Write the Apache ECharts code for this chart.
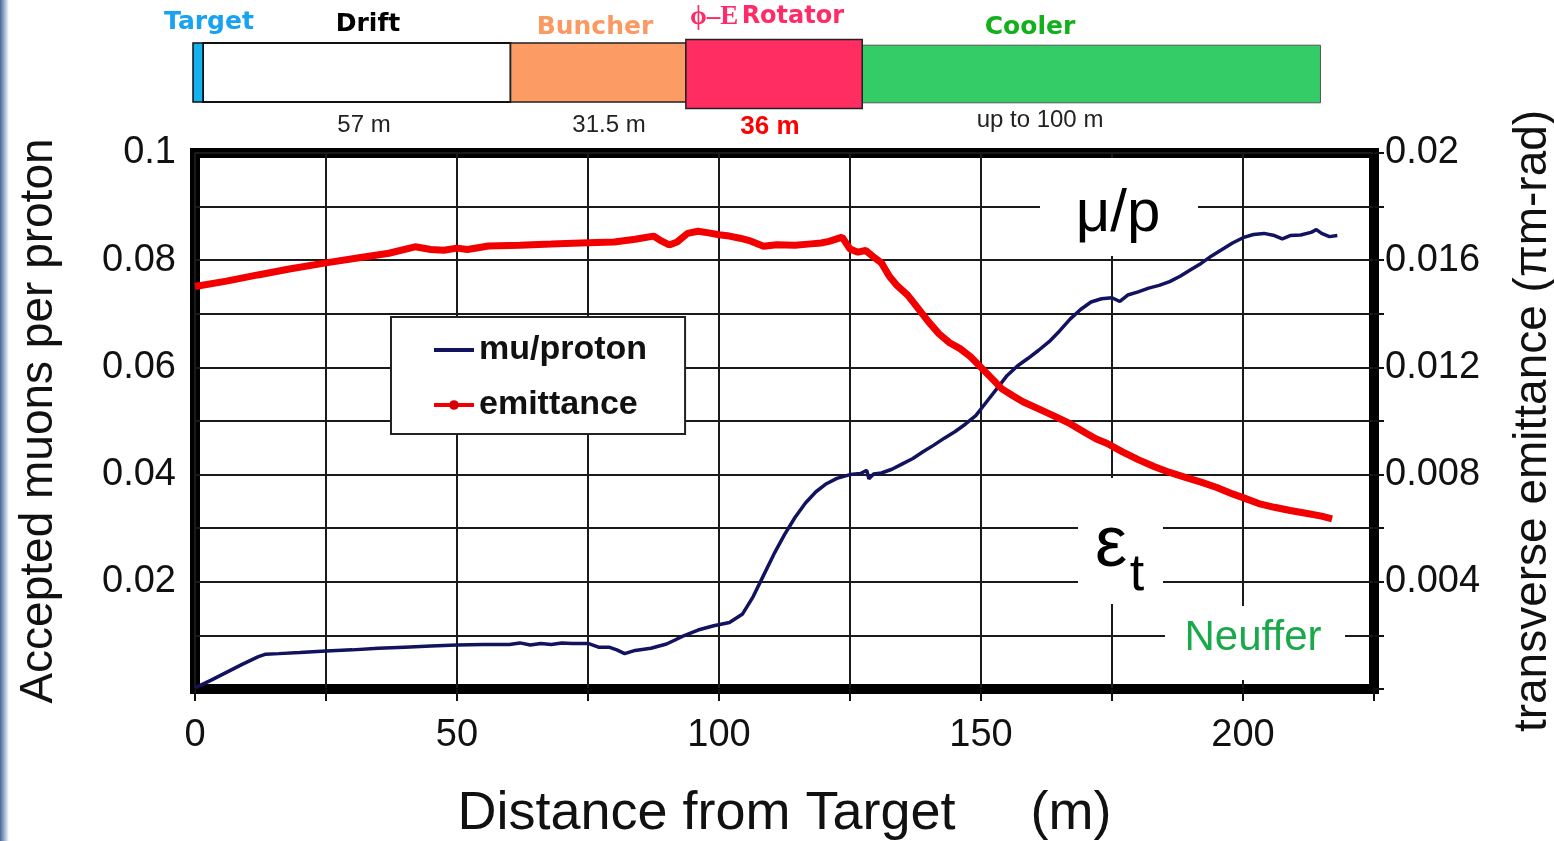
<!DOCTYPE html>
<html><head><meta charset="utf-8">
<script src="https://cdn.jsdelivr.net/npm/echarts@6/dist/echarts.min.js"></script>
<style>html,body{margin:0;padding:0;background:#fff;}#c{width:1554px;height:841px;}</style>
</head><body><div id="c"></div>
<script>
// ---------- DATA ----------
const xTickLabels = [0, 50, 100, 150, 200];
const leftTickLabels = [0.02, 0.04, 0.06, 0.08, 0.1];
const rightTickLabels = [0.004, 0.008, 0.012, 0.016, 0.02];

const muX = [0,3,6,9,12,13.5,16,20,25,30,35,40,45,50,55,60,62,64,66,68,70,72,75,77,79,80.5,82,84,87,90,93,96,99,102,104.5,106.5,108.5,110.5,112.5,114.5,116.5,118.5,120.5,122.5,125,127,128.2,128.6,129.5,131,133,135,137,139,141,143,145,147,149,151,153,155,157,159,161,163,165,167,169,171,173,175,176.5,178,180,182,184,186,188,190,192,194,196,198,200,202,204,206,207.5,209,211,213,214,215,216.5,218];
const muY = [0.0002,0.0016,0.0031,0.0046,0.0060,0.0065,0.0066,0.0068,0.0071,0.0073,0.0076,0.0078,0.0080,0.0082,0.0083,0.0083,0.0086,0.0082,0.0085,0.0083,0.0086,0.0085,0.0085,0.0078,0.0078,0.0073,0.0066,0.0072,0.0076,0.0084,0.0098,0.0110,0.0118,0.0124,0.0140,0.0172,0.0212,0.0252,0.0288,0.0320,0.0347,0.0368,0.0383,0.0393,0.0400,0.0402,0.0408,0.0392,0.0401,0.0403,0.0410,0.0420,0.0430,0.0443,0.0455,0.0468,0.0480,0.0494,0.0510,0.0535,0.0560,0.0585,0.0603,0.0617,0.0632,0.0648,0.0668,0.0690,0.0708,0.0722,0.0728,0.0730,0.0723,0.0735,0.0741,0.0748,0.0753,0.0760,0.0770,0.0782,0.0794,0.0808,0.0820,0.0832,0.0842,0.0848,0.0850,0.0846,0.0840,0.0846,0.0847,0.0852,0.0857,0.0850,0.0844,0.0846];

const emX = [0,6,12,18,25,31,37,42,45,47.5,50,52,56,62,68,75,80,84,87.5,89,90.5,92,94,96,98,100,102,104,106,108.5,111,114.5,117,119.5,121,123.5,125,126.5,128,129.5,131,132.5,134,136,138,140,142,144,146,148,150,152,154,156,158,161,164,167,170,172,174,177,180,183,186,189,192,195,198,200,203,206,209,212,215,217];
const emY = [0.01502,0.01522,0.01545,0.01567,0.01590,0.01608,0.01626,0.01650,0.01640,0.01637,0.01645,0.01640,0.01653,0.01656,0.01660,0.01665,0.01668,0.01678,0.01690,0.01672,0.01657,0.01668,0.01700,0.01708,0.01702,0.01695,0.01690,0.01682,0.01672,0.01652,0.01658,0.01656,0.01660,0.01664,0.01670,0.01686,0.01642,0.01630,0.01636,0.01612,0.01590,0.01540,0.01505,0.01470,0.01420,0.01370,0.01325,0.01292,0.01270,0.01240,0.01200,0.01160,0.01120,0.01095,0.01072,0.01045,0.01018,0.00990,0.00955,0.00933,0.00917,0.00885,0.00856,0.00830,0.00808,0.00790,0.00772,0.00752,0.00728,0.00714,0.00692,0.00678,0.00666,0.00656,0.00645,0.00635];

// schematic sections (start/end along schematic, in m of the drawn bar)
const sectionNames = ['Target', 'Drift', 'Buncher', 'ϕ–E Rotator', 'Cooler'];
const sectionStart = [0, 1.9, 60.5, 93.9, 127.5];
const sectionEnd = [1.9, 60.5, 93.9, 127.5, 214.8];
const sectionLengths = ['', '57 m', '31.5 m', '36 m', 'up to 100 m'];

// ---------- STYLES / LAYOUT ----------
const FONT = 'Liberation Sans, Arial, Helvetica, sans-serif';
const secStyle = [
  {top: 0.07, bottom: 0.89, fill: '#16b2f0', stroke: '#111', lw: 1.5, z2: 2},
  {top: 0.07, bottom: 0.89, fill: '#ffffff', stroke: '#111', lw: 2, z2: 1},
  {top: 0.07, bottom: 0.89, fill: '#fd9b64', stroke: '#222', lw: 1.5, z2: 1},
  {top: 0.02, bottom: 0.98, fill: '#ff2d62', stroke: '#222', lw: 1.5, z2: 3},
  {top: 0.10, bottom: 0.90, fill: '#33cc66', stroke: '#555', lw: 1, z2: 1}
];
const nameLabelPos = [[209, 22], [368, 24], [595, 27], [767, 17], [1030, 27]];
const nameLabelColor = ['#17a2f2', '#000000', '#fa9a62', '#ff2b66', '#12b01a'];
const lenLabelPos = [[0, 0], [364, 125], [609, 125], [770, 127], [1040, 120]];

const chart = echarts.init(document.getElementById('c'));

function renderSection(params, api) {
  const i = params.dataIndex;
  const st = secStyle[i];
  const x0 = api.coord([api.value(0), 0])[0];
  const x1 = api.coord([api.value(1), 0])[0];
  const cs = params.coordSys;
  return {
    type: 'rect', z2: st.z2,
    shape: {x: x0, y: cs.y + st.top * cs.height, width: x1 - x0, height: (st.bottom - st.top) * cs.height},
    style: {fill: st.fill, stroke: st.stroke, lineWidth: st.lw}
  };
}

const graphics = [];
// slide left edge
graphics.push({type: 'rect', left: 0, top: 0, z: 50, shape: {width: 9, height: 841},
  style: {fill: new echarts.graphic.LinearGradient(0, 0, 1, 0, [{offset: 0, color: '#45679c'}, {offset: 1, color: '#ffffff'}])}});
// schematic labels
sectionNames.forEach((n, i) => {
  if (i === 3) {
    graphics.push({type: 'text', x: nameLabelPos[i][0], y: nameLabelPos[i][1], z: 50,
      style: {text: '{a|ϕ–E} {b|Rotator}', align: 'center', verticalAlign: 'middle',
        rich: {a: {font: 'bold 27px Liberation Serif, serif', fill: nameLabelColor[i]},
               b: {font: 'bold 24px DejaVu Sans, sans-serif', fill: nameLabelColor[i]}}}});
  } else {
    graphics.push({type: 'text', x: nameLabelPos[i][0], y: nameLabelPos[i][1], z: 50,
      style: {text: n, align: 'center', verticalAlign: 'middle', font: 'bold 25px DejaVu Sans, sans-serif', fill: nameLabelColor[i]}});
  }
  if (sectionLengths[i]) {
    const bold = i === 3;
    graphics.push({type: 'text', x: lenLabelPos[i][0], y: lenLabelPos[i][1], z: 50,
      style: {text: sectionLengths[i], align: 'center', verticalAlign: 'middle',
        font: (bold ? 'bold 26px ' : '24px ') + FONT, fill: bold ? '#ff0000' : '#222'}});
  }
});
// annotations with white background
graphics.push({type: 'rect', left: 1040, top: 158, z: 50, shape: {width: 158, height: 98}, style: {fill: '#fff'}});
graphics.push({type: 'text', x: 1118, y: 214, z: 51, style: {text: 'μ/p', align: 'center', verticalAlign: 'middle', font: '60px ' + FONT, fill: '#000'}});
graphics.push({type: 'rect', left: 1078, top: 478, z: 50, shape: {width: 85, height: 126}, style: {fill: '#fff'}});
graphics.push({type: 'text', x: 1111, y: 546, z: 51, style: {text: 'ε', align: 'center', verticalAlign: 'middle', font: '72px ' + FONT, fill: '#000'}});
graphics.push({type: 'text', x: 1137, y: 576, z: 51, style: {text: 't', align: 'center', verticalAlign: 'middle', font: '52px ' + FONT, fill: '#000'}});
graphics.push({type: 'rect', left: 1165, top: 606, z: 50, shape: {width: 180, height: 74}, style: {fill: '#fff'}});
graphics.push({type: 'text', x: 1253, y: 638, z: 51, style: {text: 'Neuffer', align: 'center', verticalAlign: 'middle', font: '42px ' + FONT, fill: '#19a94a'}});

function fmt(v) { return String(+v.toFixed(4)); }
function inList(v, list) { return list.some(t => Math.abs(t - v) < 1e-9); }

chart.setOption({
  animation: false,
  backgroundColor: '#ffffff',
  textStyle: {fontFamily: FONT},
  grid: [
    {left: 195, top: 153, width: 1179, height: 536, show: true, borderColor: '#000', borderWidth: 10,
     backgroundColor: 'transparent', containLabel: false, outerBoundsMode: 'none'},
    {left: 193, top: 38, width: 1181, height: 72, show: false, outerBoundsMode: 'none'}
  ],
  xAxis: [
    {type: 'value', gridIndex: 0, min: 0, max: 225, interval: 25,
     name: 'Distance from Target     (m)', nameLocation: 'middle', nameGap: 98,
     nameTextStyle: {fontSize: 54, color: '#111', fontFamily: FONT},
     axisLine: {show: true, lineStyle: {color: '#000', width: 2}},
     axisTick: {show: true, length: 12, lineStyle: {color: '#111', width: 2}},
     axisLabel: {margin: 28, fontSize: 38, color: '#111', fontFamily: FONT,
       formatter: v => inList(v, xTickLabels) ? String(v) : ''},
     splitLine: {show: true, lineStyle: {color: '#1a1a1a', width: 2}}},
    {type: 'value', gridIndex: 1, min: 0, max: 225, show: false}
  ],
  yAxis: [
    {type: 'value', gridIndex: 0, min: 0, max: 0.1, interval: 0.01, position: 'left',
     name: 'Accepted muons per proton', nameLocation: 'middle', nameGap: 133,
     nameTextStyle: {fontSize: 46, color: '#111', fontFamily: FONT},
     axisLine: {show: false}, axisTick: {show: false},
     axisLabel: {margin: 19, fontSize: 38, color: '#111', fontFamily: FONT,
       formatter: v => inList(v, leftTickLabels) ? fmt(v) : ''},
     splitLine: {show: true, lineStyle: {color: '#1a1a1a', width: 2}}},
    {type: 'value', gridIndex: 0, min: 0, max: 0.02, interval: 0.002, position: 'right',
     name: 'transverse emittance (πm-rad)', nameLocation: 'middle', nameGap: 136, nameRotate: 90,
     nameTextStyle: {fontSize: 46, color: '#111', fontFamily: FONT},
     axisLine: {show: true, lineStyle: {color: '#000', width: 2}},
     axisTick: {show: true, length: 10, lineStyle: {color: '#111', width: 2}},
     axisLabel: {margin: 11, fontSize: 38, color: '#111', fontFamily: FONT,
       formatter: v => inList(v, rightTickLabels) ? fmt(v) : ''},
     splitLine: {show: false}},
    {type: 'value', gridIndex: 1, min: 0, max: 1, show: false}
  ],
  legend: {
    data: [{name: 'mu/proton', itemStyle: {opacity: 0}}, {name: 'emittance'}],
    orient: 'vertical', left: 391, top: 317,
    backgroundColor: '#fff', borderColor: '#222', borderWidth: 2,
    padding: [13, 38, 9, 41], itemWidth: 40, itemHeight: 12, itemGap: 15,
    lineStyle: {width: 4},
    textStyle: {fontSize: 34, fontWeight: 'bold', color: '#111', fontFamily: FONT, lineHeight: 40},
    z: 20
  },
  graphic: graphics,
  series: [
    {name: 'mu/proton', type: 'line', xAxisIndex: 0, yAxisIndex: 0,
     data: muX.map((x, i) => [x, muY[i]]), symbol: 'none',
     lineStyle: {color: '#12125e', width: 3.5}, itemStyle: {color: '#12125e'}, z: 3},
    {name: 'emittance', type: 'line', xAxisIndex: 0, yAxisIndex: 1,
     data: emX.map((x, i) => [x, emY[i]]), symbol: 'circle', symbolSize: 7, showSymbol: false,
     lineStyle: {color: '#f20000', width: 7}, itemStyle: {color: '#d80000'}, z: 4},
    {name: 'sections', type: 'custom', xAxisIndex: 1, yAxisIndex: 2, clip: false,
     renderItem: renderSection, encode: {x: [0, 1]},
     data: sectionStart.map((s, i) => [s, sectionEnd[i]])}
  ]
});
</script></body></html>
